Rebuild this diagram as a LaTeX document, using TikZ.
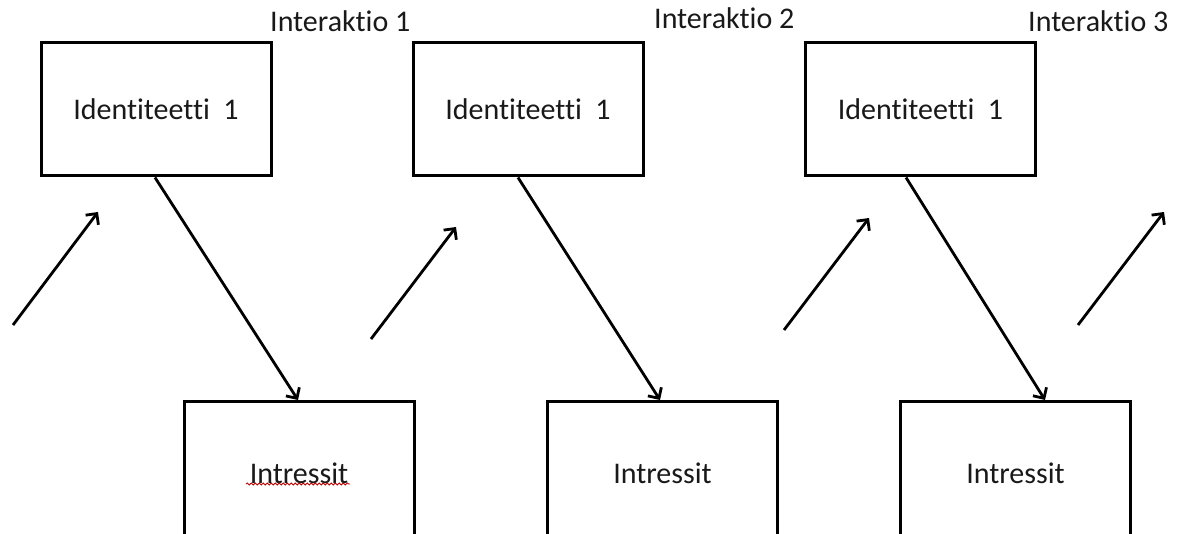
\documentclass[tikz,border=0pt]{standalone}
\usepackage{fontspec}
\setmainfont[Ligatures={NoCommon,NoRare}]{Carlito}
\usetikzlibrary{arrows.meta,decorations.pathmorphing}
\begin{document}
\begin{tikzpicture}[x=1pt,y=-1pt,
  box/.style={draw=black, line width=3pt, minimum width=230pt, minimum height=133pt, inner sep=0pt, font=\fontsize{30}{36}\selectfont, text=black!90},
  lowbox/.style={box, minimum height=143pt},
  lbl/.style={inner sep=0pt, font=\fontsize{30}{36}\selectfont, text=black!90},
  conn/.style={line width=2.8pt, -{Straight Barb[length=8pt,width=16pt,line width=2.8pt]}},
  squig/.style={draw=red!75!black, line width=0.8pt, decorate, decoration={snake, segment length=4pt, amplitude=1.1pt}}
]
\useasboundingbox (0,0) rectangle (1185,534);
\fill[white] (0,0) rectangle (1185,534);
\clip (0,0) rectangle (1185,534);

% top boxes
\node[box] (i1) at (156,109.5) {Identiteetti\ \ 1};
\node[box] (i2) at (528,109.5) {Identiteetti\ \ 1};
\node[box] (i3) at (920.5,109.5) {Identiteetti\ \ 1};

% bottom boxes
\node[lowbox] (n1) at (299,473) {Intressit};
\node[lowbox] (n2) at (662.5,473) {Intressit};
\node[lowbox] (n3) at (1015.5,473) {Intressit};

% labels
\node[lbl, anchor=base west] (l1) at (270,31.5) {Interaktio 1};
\node[lbl, anchor=base west] (l2) at (654,28.5) {Interaktio 2};
\node[lbl, anchor=base west] (l3) at (1028,31.5) {Interaktio 3};

% spell-check underline
\coordinate (s1) at (246,484);
\coordinate (s2) at (350,484);
\draw[squig] (s1) -- (s2);

% diagonal connectors
\draw[conn] ([xshift=-1pt]i1.south) -- ([xshift=-1pt]n1.north);
\draw[conn] ([xshift=-10pt]i2.south) -- ([xshift=-2.5pt]n2.north);
\draw[conn] ([xshift=-14.5pt]i3.south) -- ([xshift=29.5pt]n3.north);

% free arrows
\coordinate (a0) at (13,325);   \coordinate (a1) at (98,212);
\coordinate (b0) at (371,339);  \coordinate (b1) at (456,227);
\coordinate (c0) at (784,330);  \coordinate (c1) at (869,218);
\coordinate (d0) at (1078,325); \coordinate (d1) at (1164,212);
\draw[conn] (a0) -- (a1);
\draw[conn] (b0) -- (b1);
\draw[conn] (c0) -- (c1);
\draw[conn] (d0) -- (d1);
\end{tikzpicture}
\end{document}
